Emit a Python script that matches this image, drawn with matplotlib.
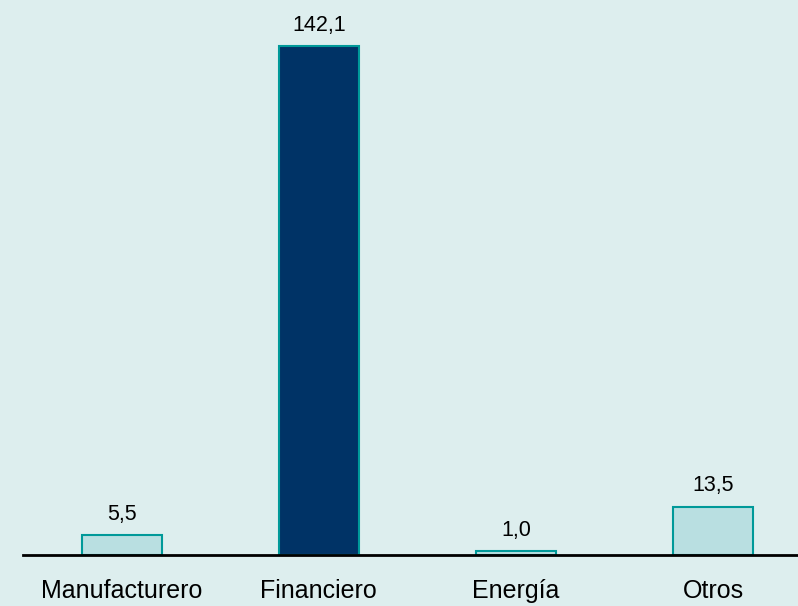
import matplotlib
matplotlib.use("Agg")
import matplotlib.pyplot as plt

categories = ["Manufacturero", "Financiero", "Energía", "Otros"]
values = [5.5, 142.1, 1.0, 13.5]
value_labels = ["5,5", "142,1", "1,0", "13,5"]

bg = "#DDEEEE"
light = "#B9DFE1"
dark = "#003366"
edge = "#009999"

plt.rcParams['font.family'] = ['Liberation Sans', 'DejaVu Sans']

fig = plt.figure(figsize=(7.98, 6.06), dpi=100, facecolor=bg)
ax = fig.add_axes([23/798, 51/606, 1 - 23/798, 555/606])
ax.set_facecolor(bg)

x = list(range(len(categories)))
colors = [light, dark, light, light]
ax.bar(x, values, width=0.405, color=colors, edgecolor=edge, linewidth=1.5, zorder=2)

for xi, v, lab in zip(x, values, value_labels):
    ax.annotate(lab, (xi, v), xytext=(0, 11), textcoords="offset points",
                ha="center", va="baseline", fontsize=15.5, color="black")

ax.set_xlim(-0.5, 3.43)
ax.set_ylim(0, 154.9)
ax.set_yticks([])
ax.set_xticks(x)
ax.set_xticklabels(categories, fontsize=18)
ax.tick_params(axis="x", length=0, pad=17)
for s in ["top", "right", "left"]:
    ax.spines[s].set_visible(False)
ax.spines["bottom"].set_linewidth(2)
ax.spines["bottom"].set_color("black")
ax.spines["bottom"].set_zorder(3)

fig.savefig("out.png", dpi=100, facecolor=bg)
